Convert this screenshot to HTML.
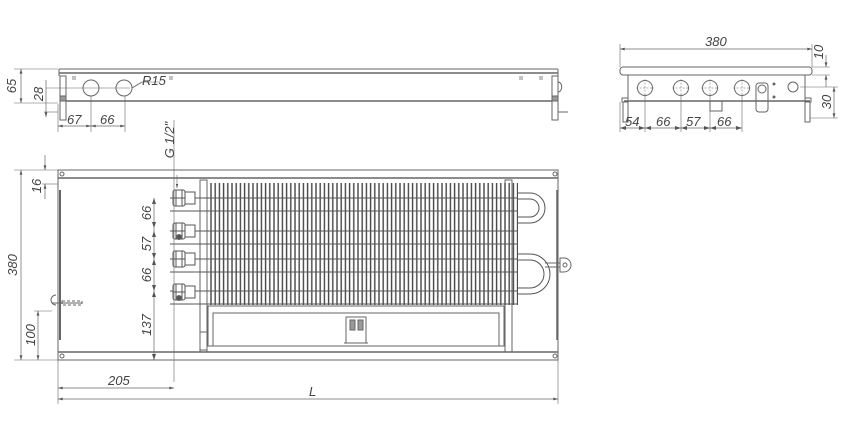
<!DOCTYPE html>
<html><head><meta charset="utf-8"><style>
html,body{margin:0;padding:0;background:#fff}
svg{display:block}
text{font-family:"Liberation Sans",sans-serif;font-style:italic;font-size:13px;fill:#444}
</style></head><body>
<svg width="850" height="446" viewBox="0 0 850 446" xmlns="http://www.w3.org/2000/svg">
<defs>
<pattern id="fins" x="210" y="0" width="4.2" height="10" patternUnits="userSpaceOnUse">
<line x1="1" y1="0" x2="1" y2="10" stroke="#444" stroke-width="1.4"/>
</pattern>
<marker id="a" viewBox="0 0 10 6" refX="10" refY="3" markerWidth="7" markerHeight="4" orient="auto-start-reverse"><path d="M0,0 L10,3 L0,6 Z" fill="#555"/></marker>
</defs>
<g stroke="#666" fill="none" stroke-width="1">
<line x1="59" y1="69" x2="558" y2="69"/>
<line x1="59" y1="73" x2="558" y2="73" stroke-width="1.5"/>
<line x1="62" y1="101" x2="555" y2="101" stroke-width="1.5"/>
<rect x="60" y="76" width="6" height="44" fill="#fff"/>
<rect x="60" y="96" width="6" height="5" fill="#999"/>
<rect x="552" y="76" width="6" height="44" fill="#fff"/>
<rect x="552" y="96" width="6" height="5" fill="#999"/>
<path d="M558 82 a3 4 0 0 1 0 10"/>
<line x1="558" y1="112" x2="568" y2="112"/>
<line x1="59" y1="69" x2="59" y2="76"/><line x1="558" y1="69" x2="558" y2="76"/>
<circle cx="91" cy="88" r="8"/><circle cx="124" cy="88" r="8"/>
<line x1="46" y1="88" x2="130" y2="88" stroke-width="0.6"/>
<line x1="132" y1="88" x2="142" y2="82"/>
<line x1="142" y1="82" x2="160" y2="82" stroke-width="0.6"/>
<path d="M73 76v4M75 76v4M170 76v4M172 76v4M520 76v4M522 76v4M540 76v4M542 76v4" stroke-width="0.8"/>
<line x1="14" y1="69" x2="58" y2="69" stroke-width="0.6"/>
<line x1="14" y1="103" x2="58" y2="103" stroke-width="0.6"/>
<line x1="21" y1="69" x2="21" y2="103" stroke-width="0.7" marker-start="url(#a)" marker-end="url(#a)"/>
<line x1="44" y1="112" x2="58" y2="112" stroke-width="0.6"/>
<line x1="46" y1="80" x2="46" y2="117" stroke-width="0.7" marker-end="url(#a)"/>
<line x1="58" y1="104" x2="58" y2="132" stroke-width="0.6"/>
<line x1="91" y1="96" x2="91" y2="132" stroke-width="0.6"/>
<line x1="125" y1="96" x2="125" y2="132" stroke-width="0.6"/>
<line x1="58" y1="126" x2="91" y2="126" stroke-width="0.7" marker-start="url(#a)" marker-end="url(#a)"/>
<line x1="91" y1="126" x2="125" y2="126" stroke-width="0.7" marker-start="url(#a)" marker-end="url(#a)"/>

<rect x="620" y="67" width="192" height="8" rx="3"/>
<line x1="628" y1="75" x2="628" y2="101"/><line x1="805" y1="75" x2="805" y2="101"/>
<line x1="624" y1="101" x2="810" y2="101" stroke-width="1.5"/>
<rect x="622" y="98" width="6" height="4"/><rect x="805" y="98" width="6" height="4"/>
<rect x="623" y="102" width="5" height="20"/><rect x="805" y="102" width="5" height="20"/>
<circle cx="645" cy="88" r="7.5"/><circle cx="681" cy="88" r="7.5"/><circle cx="710" cy="88" r="7.5"/><circle cx="742" cy="88" r="7.5"/><circle cx="793" cy="87" r="5"/>
<path d="M636 88h18M645 79v18M672 88h18M681 79v18M701 88h18M710 79v18M733 88h18M742 79v18" stroke-width="0.5" stroke-dasharray="2 1.5"/>
<rect x="756" y="83" width="12" height="29" rx="3"/><circle cx="762" cy="89" r="4"/>
<rect x="710" y="101" width="12" height="10"/>
<circle cx="774" cy="84" r="1" fill="#666"/><circle cx="774" cy="97" r="1" fill="#666"/>
<line x1="620" y1="44" x2="620" y2="67" stroke-width="0.6"/><line x1="812" y1="44" x2="812" y2="67" stroke-width="0.6"/>
<line x1="620" y1="49" x2="812" y2="49" stroke-width="0.7" marker-start="url(#a)" marker-end="url(#a)"/>
<line x1="620" y1="102" x2="620" y2="132" stroke-width="0.6"/>
<line x1="645" y1="96" x2="645" y2="132" stroke-width="0.6"/>
<line x1="681" y1="96" x2="681" y2="132" stroke-width="0.6"/>
<line x1="710" y1="96" x2="710" y2="132" stroke-width="0.6"/>
<line x1="742" y1="96" x2="742" y2="132" stroke-width="0.6"/>
<line x1="620" y1="128" x2="742" y2="128" stroke-width="0.7"/>
<path d="M620 128l6-2v4zM645 128l-6-2v4zM645 128l6-2v4zM681 128l-6-2v4zM681 128l6-2v4zM710 128l-6-2v4zM710 128l6-2v4zM742 128l-6-2v4z" fill="#555" stroke="none"/>
<line x1="812" y1="67" x2="830" y2="67" stroke-width="0.6"/>
<line x1="812" y1="75" x2="830" y2="75" stroke-width="0.6"/>
<line x1="826" y1="55" x2="826" y2="67" stroke-width="0.7" marker-end="url(#a)"/>
<line x1="826" y1="87" x2="826" y2="75" stroke-width="0.7" marker-end="url(#a)"/>
<line x1="800" y1="87" x2="838" y2="87" stroke-width="0.6"/>
<line x1="810" y1="118" x2="838" y2="118" stroke-width="0.6"/>
<line x1="834" y1="87" x2="834" y2="118" stroke-width="0.7" marker-start="url(#a)" marker-end="url(#a)"/>

<rect x="58" y="170" width="500" height="190"/>
<line x1="58" y1="178" x2="558" y2="178" stroke-width="1.5"/>
<line x1="58" y1="352" x2="558" y2="352" stroke-width="1.5"/>
<line x1="60" y1="190" x2="60" y2="340" stroke-width="2"/>
<line x1="557" y1="190" x2="557" y2="340" stroke-width="1.5"/>
<circle cx="62" cy="174" r="2"/><circle cx="555" cy="174" r="2"/><circle cx="62" cy="356" r="2"/><circle cx="555" cy="356" r="2"/>
<path d="M56 305 a5 5 0 0 1 0-10"/><line x1="52" y1="303" x2="82" y2="303"/>
<path d="M62 301h20v4h-20z" stroke-dasharray="3 2"/>
<rect x="200" y="180" width="7" height="172"/>
<rect x="505" y="180" width="7" height="172"/>
<rect x="210" y="183" width="308" height="122" fill="url(#fins)" stroke="none"/>
<path d="M170 198h348M170 211h348M170 231h348M170 244h348M170 259h348M170 272h348M170 291h348M170 304h348" stroke="#555" stroke-width="0.9"/>
<g fill="#fff" stroke="#555">
<rect x="173" y="190" width="12" height="16" rx="2"/><rect x="185" y="192" width="10" height="12"/><path d="M176 190v16M182 190v16M173 198h12"/>
<rect x="173" y="223" width="12" height="16" rx="2"/><rect x="185" y="225" width="10" height="12"/><path d="M176 223v16M182 223v16M173 231h12"/>
<rect x="173" y="251" width="12" height="16" rx="2"/><rect x="185" y="253" width="10" height="12"/><path d="M176 251v16M182 251v16M173 259h12"/>
<rect x="173" y="284" width="12" height="16" rx="2"/><rect x="185" y="286" width="10" height="12"/><path d="M176 284v16M182 284v16M173 292h12"/>
</g>
<circle cx="179" cy="237" r="2.5" fill="#555"/><circle cx="179" cy="298" r="2.5" fill="#555"/>
<path d="M518 193h12a15 15 0 0 1 0 30h-12M518 199h12a9 9 0 0 1 0 18h-12" stroke="#555"/>
<path d="M518 254h12a20 20 0 0 1 0 40h-12M518 260h12a14 14 0 0 1 0 28h-12" stroke="#555"/>
<line x1="545" y1="263" x2="560" y2="263"/><line x1="545" y1="267" x2="560" y2="267"/>
<path d="M560 258h4a7 7 0 0 1 0 14h-4z"/><circle cx="565" cy="265" r="2"/>
<rect x="208" y="306" width="296" height="40"/>
<rect x="213" y="313" width="286" height="33"/>
<rect x="346" y="317" width="20" height="26"/><rect x="350" y="320" width="5" height="10" fill="#999"/><rect x="358" y="320" width="5" height="10" fill="#999"/>
<line x1="344" y1="343" x2="368" y2="343"/>
<rect x="200" y="332" width="7" height="18"/>
<line x1="14" y1="170" x2="58" y2="170" stroke-width="0.6"/>
<line x1="14" y1="360" x2="58" y2="360" stroke-width="0.6"/>
<line x1="21" y1="170" x2="21" y2="360" stroke-width="0.7" marker-start="url(#a)" marker-end="url(#a)"/>
<line x1="42" y1="184" x2="58" y2="184" stroke-width="0.6"/>
<line x1="45" y1="155" x2="45" y2="170" stroke-width="0.7" marker-end="url(#a)"/>
<line x1="45" y1="199" x2="45" y2="184" stroke-width="0.7" marker-end="url(#a)"/>
<line x1="34" y1="311" x2="52" y2="311" stroke-width="0.6"/>
<line x1="38" y1="311" x2="38" y2="360" stroke-width="0.7" marker-start="url(#a)" marker-end="url(#a)"/>
<line x1="154" y1="198" x2="154" y2="360" stroke-width="0.7"/>
<path d="M154 198l-2 6h4zM154 228l-2-6h4zM154 231l-2 6h4zM154 259l-2-6h4zM154 259l-2 6h4zM154 291l-2-6h4zM154 291l-2 6h4zM154 360l-2-6h4z" fill="#555" stroke="none"/>
<line x1="174" y1="120" x2="174" y2="382" stroke-width="0.6"/>
<line x1="177" y1="175" x2="177" y2="188" stroke-width="0.6" marker-end="url(#a)"/>
<line x1="58" y1="360" x2="58" y2="404" stroke-width="0.6"/>
<line x1="558" y1="360" x2="558" y2="404" stroke-width="0.6"/>
<line x1="58" y1="388" x2="174" y2="388" stroke-width="0.7" marker-start="url(#a)" marker-end="url(#a)"/>
<line x1="58" y1="399" x2="558" y2="399" stroke-width="0.7" marker-start="url(#a)" marker-end="url(#a)"/>
</g>
<text transform="translate(16,86) rotate(-90)" text-anchor="middle">65</text>
<text transform="translate(43,94) rotate(-90)" text-anchor="middle">28</text>
<text x="67" y="124">67</text>
<text x="100" y="124">66</text>
<text x="142" y="85">R15</text>
<text transform="translate(174,140) rotate(-90)" text-anchor="middle">G 1/2"</text>
<text x="705" y="46">380</text>
<text x="625" y="126">54</text>
<text x="656" y="126">66</text>
<text x="686" y="126">57</text>
<text x="717" y="126">66</text>
<text transform="translate(823,52) rotate(-90)" text-anchor="middle">10</text>
<text transform="translate(831,102) rotate(-90)" text-anchor="middle">30</text>
<text transform="translate(17,265) rotate(-90)" text-anchor="middle">380</text>
<text transform="translate(41,186) rotate(-90)" text-anchor="middle">16</text>
<text transform="translate(35,335) rotate(-90)" text-anchor="middle">100</text>
<text transform="translate(151,213) rotate(-90)" text-anchor="middle">66</text>
<text transform="translate(151,244) rotate(-90)" text-anchor="middle">57</text>
<text transform="translate(151,275) rotate(-90)" text-anchor="middle">66</text>
<text transform="translate(151,325) rotate(-90)" text-anchor="middle">137</text>
<text x="108" y="385">205</text>
<text x="309" y="396">L</text>
</svg>
</body></html>
